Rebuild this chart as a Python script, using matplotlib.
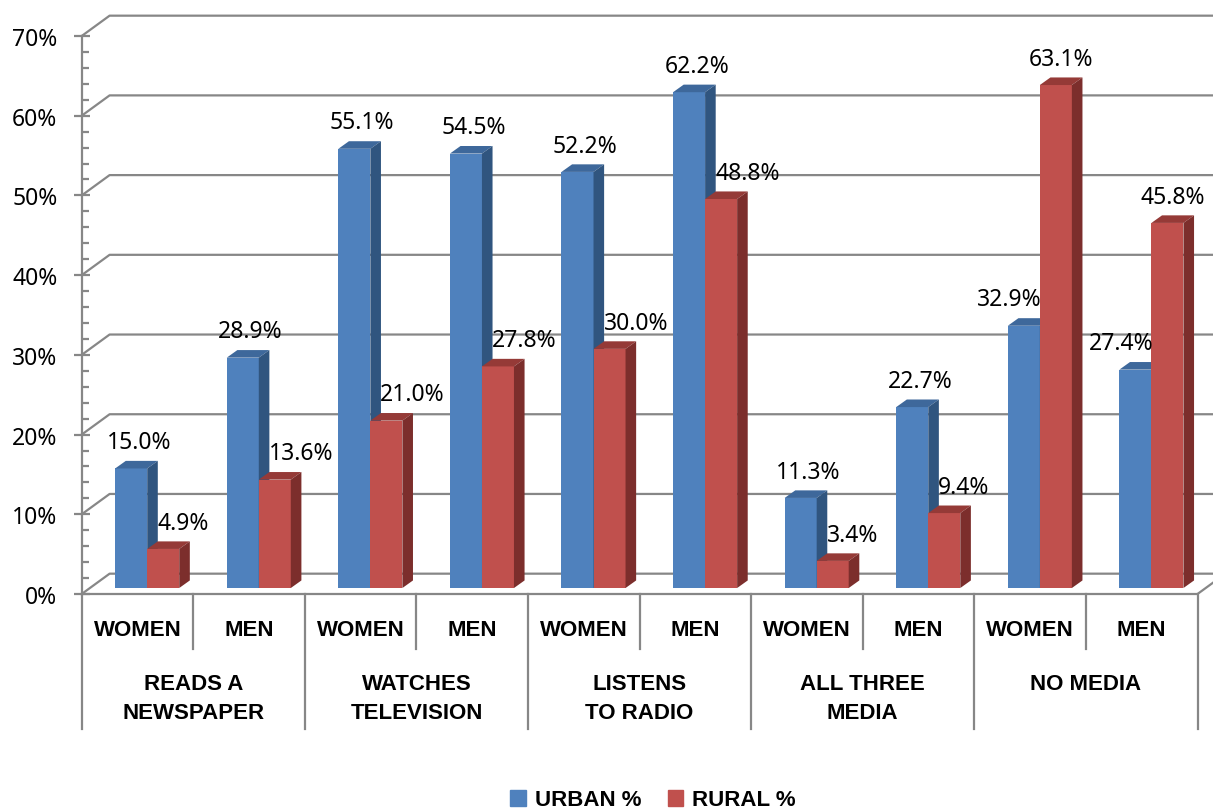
import matplotlib.pyplot as plt
from matplotlib.patches import Polygon, Patch

plt.rcParams['font.family'] = ['Noto Sans', 'DejaVu Sans']

############################# data ################################
groups = ["READS A\nNEWSPAPER", "WATCHES\nTELEVISION", "LISTENS\nTO RADIO", "ALL THREE\nMEDIA", "NO MEDIA"]
sexes = ["WOMEN", "MEN"]
urban = [15.0, 28.9, 55.1, 54.5, 52.2, 62.2, 11.3, 22.7, 32.9, 27.4]
rural = [4.9, 13.6, 21.0, 27.8, 30.0, 48.8, 3.4, 9.4, 63.1, 45.8]
y_ticks = [0, 10, 20, 30, 40, 50, 60, 70]

# colours: front, top, side
blue = ("#4F81BD", "#3E689B", "#30557F")
red = ("#C0504D", "#953A37", "#7C2E2C")
grid_col = "#878787"
fs = 16.5
bold_font = {"family": ["Liberation Sans", "DejaVu Sans"], "weight": "bold", "size": 16}

# 3d look (data units)
DX, DY = 0.25, 2.55      # back wall offset
bdx, bdy = 0.095, 0.95   # bar depth
base = 0.75              # bar front plane lift
bar_w = 0.287
bar_x0 = 0.30

fig = plt.figure(figsize=(12.13, 8.12), dpi=100)
ax = fig.add_axes([81.7 / 1213, 1 - 595 / 812, (1197.5 - 81.7) / 1213, 558 / 812])
ax.set_xlim(0, 10)
ax.set_ylim(0, 70)
for s in ["top", "right", "bottom"]:
    ax.spines[s].set_visible(False)
ax.spines["left"].set_color(grid_col)
ax.spines["left"].set_linewidth(1.6)
ax.set_xticks([])
ax.set_yticks(y_ticks)
ax.set_yticklabels([f"{t}%" for t in y_ticks], fontsize=fs)
ax.set_yticks(range(0, 71, 2), minor=True)
ax.tick_params(axis="y", which="major", direction="inout", length=11, width=1.6, color=grid_col, pad=12)
ax.tick_params(axis="y", which="minor", direction="in", length=5, width=1.6, color=grid_col)

############################# walls and grid ################################
for t in y_ticks:
    ax.plot([0, DX, 10.6], [t, t + DY, t + DY], color=grid_col, lw=1.6, clip_on=False, zorder=1)
# floor front edge and right edge
ax.plot([0, 10, 10 + DX], [0, 0, DY], color=grid_col, lw=1.6, clip_on=False, zorder=1)

# category separators
for k in range(11):
    low = -16.9 if k % 2 == 0 else -6.9
    ax.plot([k, k], [0, low], color=grid_col, lw=1.6, clip_on=False, zorder=1)

############################# bars ################################
def bar3d(x0, v, cols):
    b, t = base, v + base
    ax.add_patch(Polygon([(x0, b), (x0 + bar_w, b), (x0 + bar_w, t), (x0, t)],
                         closed=True, fc=cols[0], ec="none", zorder=3, clip_on=False))
    ax.add_patch(Polygon([(x0, t), (x0 + bar_w, t), (x0 + bar_w + bdx, t + bdy), (x0 + bdx, t + bdy)],
                         closed=True, fc=cols[1], ec="none", zorder=3, clip_on=False))
    ax.add_patch(Polygon([(x0 + bar_w, b), (x0 + bar_w + bdx, b + bdy), (x0 + bar_w + bdx, t + bdy), (x0 + bar_w, t)],
                         closed=True, fc=cols[2], ec="none", zorder=3, clip_on=False))

lab_dy = 3.3
for i in range(10):
    xb = i + bar_x0
    xr = xb + bar_w
    bar3d(xb, urban[i], blue)
    bar3d(xr, rural[i], red)
    cb = xb + bar_w / 2
    cr = xr + bar_w / 2
    if rural[i] > urban[i]:
        ax.text(cb + 0.16, urban[i] + base + lab_dy, f"{urban[i]:.1f}%", ha="right", va="center",
                fontsize=fs, zorder=5, clip_on=False)
        ax.text(cr + 0.05, rural[i] + base + lab_dy, f"{rural[i]:.1f}%", ha="center", va="center",
                fontsize=fs, zorder=5, clip_on=False)
    else:
        ax.text(cb + 0.07, urban[i] + base + lab_dy, f"{urban[i]:.1f}%", ha="center", va="center",
                fontsize=fs, zorder=5, clip_on=False)
        ax.text(cr - 0.054, rural[i] + base + lab_dy, f"{rural[i]:.1f}%", ha="left", va="center",
                fontsize=fs, zorder=5, clip_on=False)

############################# category labels ################################
for i in range(10):
    ax.text(i + 0.5, -4.4, sexes[i % 2], ha="center", va="center", fontdict=bold_font, clip_on=False)
for g, name in enumerate(groups):
    ax.text(2 * g + 1, -9.9, name, ha="center", va="top", multialignment="center",
            fontdict=bold_font, linespacing=1.5, clip_on=False)

handles = [Patch(color=blue[0]), Patch(color=red[0])]
fig.legend(handles=handles, labels=["URBAN %", "RURAL %"], loc="center", bbox_to_anchor=(653 / 1213, 1 - 801 / 812),
           ncol=2, frameon=False, prop=bold_font,
           handlelength=0.7, handleheight=0.7, handletextpad=0.4, columnspacing=1.2)

plt.savefig("out.png", dpi=100)
